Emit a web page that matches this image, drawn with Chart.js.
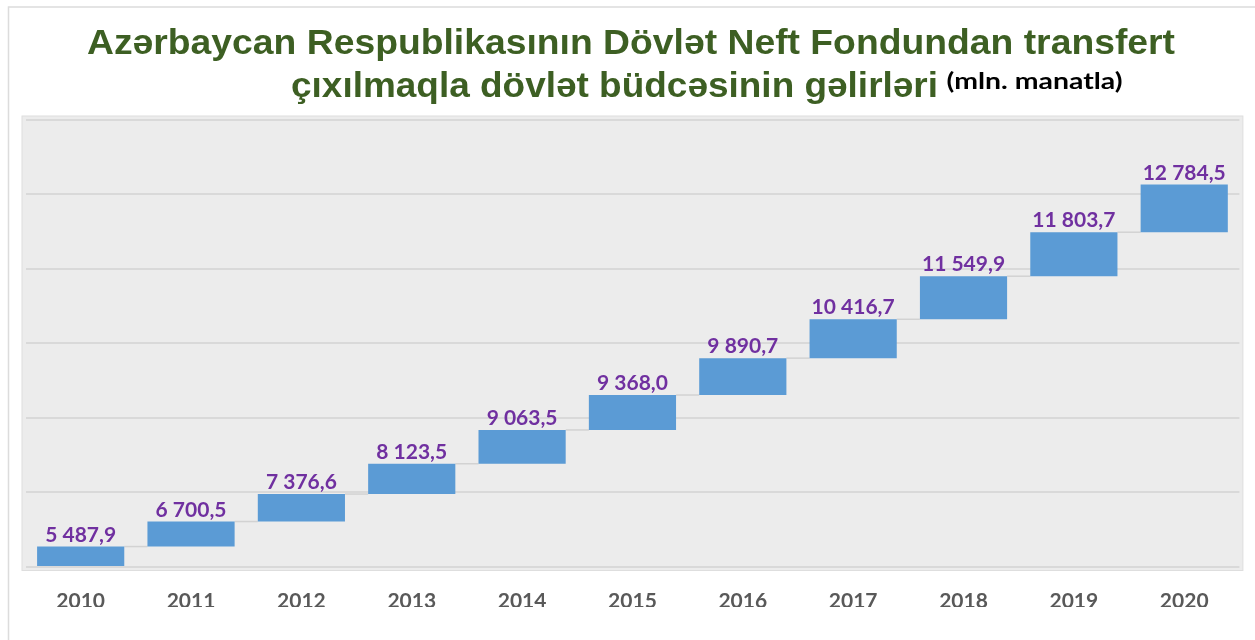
<!DOCTYPE html>
<html>
<head>
<meta charset="utf-8">
<script src="https://cdn.jsdelivr.net/npm/chart.js@4.4.1/dist/chart.umd.min.js"></script>
<style>
  html, body { margin: 0; padding: 0; background: #ffffff; }
  #wrap { width: 1255px; height: 640px; position: relative; }
</style>
</head>
<body>
<div id="wrap"><canvas id="c" width="1255" height="640"></canvas></div>
<script>
// ---- data ----
const years = ['2010', '2011', '2012', '2013', '2014', '2015', '2016', '2017', '2018', '2019', '2020'];
const values = [5487.9, 6700.5, 7376.6, 8123.5, 9063.5, 9368.0, 9890.7, 10416.7, 11549.9, 11803.7, 12784.5];
const valueLabels = ['5 487,9', '6 700,5', '7 376,6', '8 123,5', '9 063,5', '9 368,0', '9 890,7', '10 416,7', '11 549,9', '11 803,7', '12 784,5'];
const yMin = 0;
const yMax = 120000;
const yStep = 20000;
const titleLine1 = 'Azərbaycan Respublikasının Dövlət Neft Fondundan transfert';
const titleLine2 = 'çıxılmaqla dövlət büdcəsinin gəlirləri';
const titleUnit = '(mln. manatla)';

// waterfall: each bar floats from the running total before it to the running total after it
const floating = [];
let running = 0;
for (const v of values) { floating.push([running, running + v]); running += v; }

function fitText(ctx, text, left, right, baseline) {
  const w = ctx.measureText(text).width;
  const sx = (right - left) / w;
  ctx.save();
  ctx.translate(left, baseline);
  ctx.scale(sx, 1);
  ctx.textAlign = 'left';
  ctx.fillText(text, 0, 0);
  ctx.restore();
}

const frameAndTitle = {
  id: 'frameAndTitle',
  beforeDraw(chart) {
    const ctx = chart.ctx;
    const a = chart.chartArea;
    ctx.save();
    // outer frame lines
    ctx.strokeStyle = '#dcdcdc';
    ctx.lineWidth = 1.5;
    ctx.beginPath();
    ctx.moveTo(8.5, 640); ctx.lineTo(8.5, 7); ctx.lineTo(1255, 7);
    ctx.stroke();
    // plot panel
    ctx.fillStyle = '#ececec';
    ctx.fillRect(a.left - 3.5, a.top - 3.5, a.right - a.left + 7, a.bottom - a.top + 7);
    ctx.strokeStyle = '#dedede';
    ctx.lineWidth = 1;
    ctx.strokeRect(a.left - 3.5, a.top - 3.5, a.right - a.left + 7, a.bottom - a.top + 7);
    // title
    ctx.fillStyle = '#3d5f23';
    ctx.font = 'bold 35px "Liberation Sans", Arial, sans-serif';
    ctx.textBaseline = 'alphabetic';
    fitText(ctx, titleLine1, 87, 1175, 54);
    fitText(ctx, titleLine2, 291, 938, 97);
    ctx.fillStyle = '#000000';
    ctx.font = 'bold 23px Lato, sans-serif';
    fitText(ctx, titleUnit, 946.5, 1122.5, 89);
    ctx.restore();
  },
  beforeDatasetsDraw(chart) {
    const ctx = chart.ctx;
    const meta = chart.getDatasetMeta(0);
    ctx.save();
    ctx.strokeStyle = '#d2d2d2';
    ctx.lineWidth = 1.5;
    for (let i = 0; i < meta.data.length - 1; i++) {
      const b = meta.data[i], n = meta.data[i + 1];
      ctx.beginPath();
      ctx.moveTo(b.x + b.width / 2, b.y);
      ctx.lineTo(n.x - n.width / 2, b.y);
      ctx.stroke();
    }
    ctx.restore();
  },
  afterDatasetsDraw(chart) {
    const ctx = chart.ctx;
    const meta = chart.getDatasetMeta(0);
    ctx.save();
    ctx.fillStyle = '#7030a0';
    ctx.font = 'bold 21px Lato, sans-serif';
    ctx.textAlign = 'center';
    ctx.textBaseline = 'alphabetic';
    meta.data.forEach((b, i) => {
      ctx.fillText(valueLabels[i], b.x, b.y - 5);
    });
    ctx.restore();
  }
};

new Chart(document.getElementById('c'), {
  type: 'bar',
  data: {
    labels: years,
    datasets: [{
      data: floating,
      backgroundColor: '#5b9bd5',
      borderWidth: 0,
      borderSkipped: false,
      barPercentage: 0.79,
      categoryPercentage: 1.0
    }]
  },
  options: {
    responsive: false,
    animation: false,
    devicePixelRatio: 1,
    layout: { padding: { top: 119.5, left: 25.5, right: 15.6, bottom: 33 } },
    plugins: { legend: { display: false }, title: { display: false }, tooltip: { enabled: false } },
    scales: {
      x: {
        grid: { display: false, drawTicks: false },
        border: { display: false },
        ticks: { color: '#595959', font: { family: 'Lato', size: 21, weight: 'bold' }, padding: 22, maxRotation: 0 },
        afterFit(scale) { scale.height = 40; }
      },
      y: {
        min: yMin, max: yMax,
        ticks: { display: false, stepSize: yStep },
        grid: { color: '#d9d9d9', lineWidth: 2, drawTicks: false },
        border: { display: false }
      }
    }
  },
  plugins: [frameAndTitle]
});
</script>
</body>
</html>
